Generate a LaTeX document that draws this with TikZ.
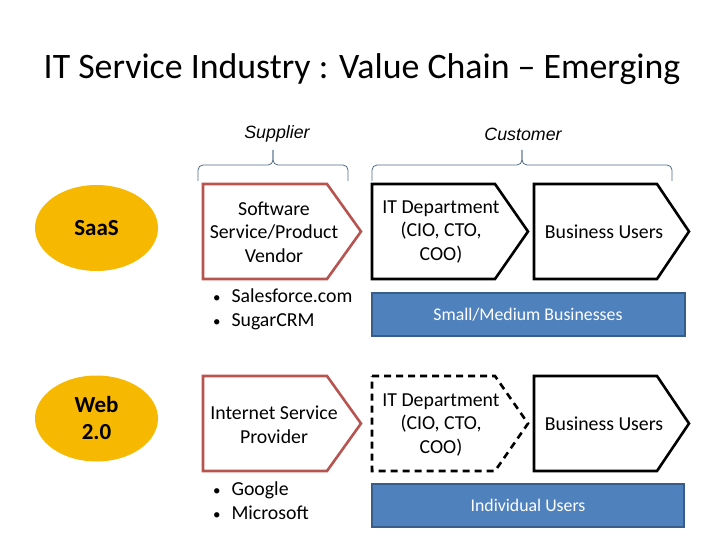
\documentclass[tikz,border=0pt]{standalone}
\usepackage{fontspec}
\setmainfont{Carlito}
\newfontfamily\arialfont{Liberation Sans}
\usetikzlibrary{shapes.geometric}
\definecolor{chevred}{RGB}{184,84,80}
\definecolor{gold}{RGB}{246,184,0}
\definecolor{barblue}{RGB}{79,129,189}
\definecolor{barline}{RGB}{56,93,138}
\definecolor{bracecol}{RGB}{80,105,135}
\newcommand{\bul}{\makebox[19pt][l]{\hspace{0.5pt}\fontsize{15}{15}\selectfont•}}
\tikzset{
  redchev/.style={draw=chevred, line width=2.6pt, line join=miter},
  blackchev/.style={draw=black, line width=2.6pt, line join=miter},
  dashchev/.style={draw=black, line width=2.6pt, dash pattern=on 7pt off 5pt},
  bar/.style={draw=barline, line width=1.5pt, fill=barblue},
  bartext/.style={text=white, font=\fontsize{17.8}{21}\selectfont},
  bodytext/.style={align=center, font=\fontsize{19.8}{23.7}\selectfont},
  bullettext/.style={align=left, anchor=west, font=\fontsize{19.8}{24}\selectfont},
  goldell/.style={ellipse, fill=gold, minimum width=123pt, minimum height=86pt, inner sep=0pt, align=center, font=\fontsize{23}{27}\selectfont\bfseries},
  bracestyle/.style={draw=bracecol, line width=0.8pt, rounded corners=5pt},
  headtext/.style={font=\arialfont\itshape\fontsize{17.8}{21}\selectfont},
}
\begin{document}
\begin{tikzpicture}[x=1pt,y=-1pt]
\useasboundingbox (0,0) rectangle (720,540);
% title
\node[font=\fontsize{35.8}{42}\selectfont] (title) at (362,69) {IT Service Industry : Value Chain -- Emerging};
% headers
\node[headtext] (sup) at (277,134) {Supplier};
\node[headtext] (cus) at (523,134) {Customer};
% braces
\draw[bracestyle] (198,181) -- (198,165) -- (273,165) -- (273,150);
\draw[bracestyle] (273,150) -- (273,165) -- (348,165) -- (348,181);
\draw[bracestyle] (372,181) -- (372,165) -- (522,165) -- (522,150);
\draw[bracestyle] (522,150) -- (522,165) -- (672,165) -- (672,181);
% ellipses
\node[goldell] (saas) at (96.5,228) {SaaS};
\node[goldell] (web) at (96.5,418.5) {Web\\2.0};
% row 1 chevrons
\draw[redchev] (203,184) -- (327,184) -- (361,231.5) -- (327,279) -- (203,279) -- cycle;
\node[bodytext] (sw) at (274,232) {Software\\Service/Product\\Vendor};
\draw[blackchev] (372,184) -- (495,184) -- (528,231.5) -- (495,279) -- (372,279) -- cycle;
\node[bodytext] (it1) at (441,232) {IT Department\\(CIO, CTO,\\COO)};
\draw[blackchev] (534,184) -- (657,184) -- (689,231.5) -- (657,279) -- (534,279) -- cycle;
\node[bodytext] (bu1) at (604,232) {Business Users};
% bullets row 1
\node[bullettext] (b1) at (209,309) {\bul Salesforce.com\\\bul SugarCRM};
% bar 1
\draw[bar] (372,293) rectangle (685,336);
\node[bartext] (smb) at (528,315) {Small/Medium Businesses};
% row 2 chevrons
\draw[redchev] (203,376) -- (327,376) -- (361,423.5) -- (327,471) -- (203,471) -- cycle;
\node[bodytext] (isp) at (274,425) {Internet Service\\Provider};
\draw[dashchev] (372,376) -- (495,376) -- (528,423.5) -- (495,471) -- (372,471) -- cycle;
\node[bodytext] (it2) at (441,425) {IT Department\\(CIO, CTO,\\COO)};
\draw[blackchev] (534,376) -- (657,376) -- (689,423.5) -- (657,471) -- (534,471) -- cycle;
\node[bodytext] (bu2) at (604,424) {Business Users};
% bullets row 2
\node[bullettext] (b2) at (209,501) {\bul Google\\\bul Microsoft};
% bar 2
\draw[bar] (372,484) rectangle (684,527);
\node[bartext] (ind) at (528,505) {Individual Users};
\end{tikzpicture}
\end{document}
